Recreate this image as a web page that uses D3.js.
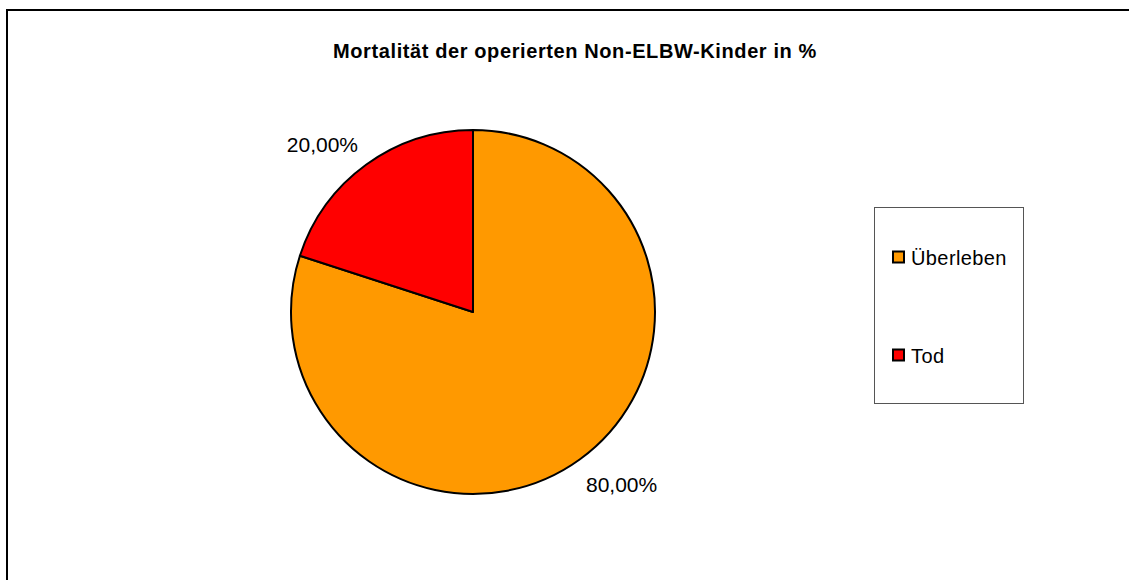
<!DOCTYPE html>
<html>
<head>
<meta charset="utf-8">
<script src="https://cdn.jsdelivr.net/npm/d3@7"></script>
<style>
  body { margin: 0; background: #fff; }
  svg { display: block; font-family: "Liberation Sans", Arial, sans-serif; }
</style>
</head>
<body>
<svg></svg>
<script>
let width = 1129
let height = 580

let categories = ['Überleben', 'Tod']
let values = [80, 20]
let valueLabels = ['80,00%', '20,00%']
let colors = ['#FF9900', '#FF0000']

let svg = d3.select('svg')
    .attr('width', width)
    .attr('height', height)

// outer frame, cut off by the window on right and bottom
svg.append('rect')
    .attr('x', 7)
    .attr('y', 10)
    .attr('width', width + 20)
    .attr('height', height + 20)
    .attr('fill', 'none')
    .attr('stroke', '#000')
    .attr('stroke-width', 2)

svg.append('text')
    .attr('x', 575)
    .attr('y', 58)
    .style('text-anchor', 'middle')
    .style('font-weight', 'bold')
    .style('font-size', '20px')
    .style('letter-spacing', '0.6px')
    .text('Mortalität der operierten Non-ELBW-Kinder in %')

let cx = 473
let cy = 312
let radius = 182

let pie = d3.pie().sort(null)(values)
let arc = d3.arc().innerRadius(0).outerRadius(radius)

let g = svg.append('g')
    .attr('transform', `translate(${cx}, ${cy})`)

g.selectAll('path')
  .data(pie)
  .enter()
  .append('path')
    .attr('d', arc)
    .attr('fill', (d, i) => colors[i])
    .attr('stroke', '#000')
    .attr('stroke-width', 2)
    .attr('stroke-linejoin', 'round')

let labelArc = d3.arc().innerRadius(radius + 30).outerRadius(radius + 30)
let labelShift = [[24, 8], [-26, 11]]

g.selectAll('text.lbl')
  .data(pie)
  .enter()
  .append('text')
    .attr('class', 'lbl')
    .attr('x', (d, i) => labelArc.centroid(d)[0] + labelShift[i][0])
    .attr('y', (d, i) => labelArc.centroid(d)[1] + labelShift[i][1])
    .style('text-anchor', 'middle')
    .style('font-size', '21px')
    .text((d, i) => valueLabels[i])

// legend
let legend = svg.append('g')

legend.append('rect')
    .attr('x', 874.5)
    .attr('y', 207.5)
    .attr('width', 149)
    .attr('height', 196)
    .attr('fill', '#fff')
    .attr('stroke', '#555')
    .attr('stroke-width', 1)

let legendY = d3.scalePoint()
    .domain(categories)
    .range([257, 355])

let items = legend.selectAll('g.item')
  .data(categories)
  .enter()
  .append('g')
    .attr('class', 'item')
    .attr('transform', d => `translate(893, ${legendY(d)})`)

items.append('rect')
    .attr('x', 0)
    .attr('y', -5.5)
    .attr('width', 11)
    .attr('height', 11)
    .attr('fill', (d, i) => colors[i])
    .attr('stroke', '#000')
    .attr('stroke-width', 2)

items.append('text')
    .attr('x', 18)
    .attr('y', 8)
    .style('font-size', '20px')
    .style('letter-spacing', '0.4px')
    .text(d => d)
</script>
</body>
</html>
